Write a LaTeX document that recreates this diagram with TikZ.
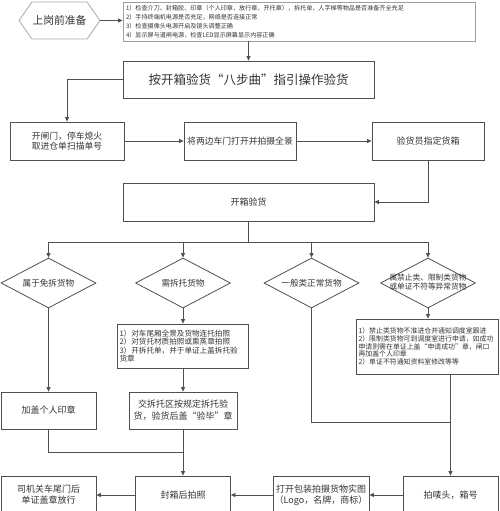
\documentclass[tikz,border=0pt]{standalone}
\usepackage{fontspec}
\setmainfont{Noto Sans CJK SC}
\usetikzlibrary{arrows.meta,shapes.geometric,shapes.symbols}
\definecolor{linec}{HTML}{505050}
\definecolor{textc}{HTML}{333333}
\definecolor{hexc}{HTML}{A8A8A8}
\begin{document}
\begin{tikzpicture}[x=1pt,y=-1pt,
 box/.style={draw=linec, line width=0.8pt, rectangle, inner sep=1pt, align=center, text=textc, font=\fontsize{9}{11}\selectfont},
 dia/.style={draw=linec, line width=0.8pt, diamond, aspect=1.9, inner sep=0pt, minimum width=95pt, minimum height=50pt, text=textc, font=\fontsize{8.6}{9}\selectfont, align=center},
 arr/.style={draw=linec, line width=0.8pt, -{Triangle[length=4.5pt,width=4pt]}},
 ln/.style={draw=linec, line width=0.8pt},
]
\useasboundingbox (0,0) rectangle (500,511);

\node[signal, signal to=east and west, signal pointer angle=110, draw=hexc, line width=0.8pt,
  minimum width=81pt, minimum height=37pt, inner sep=0pt, text=textc,
  font=\fontsize{10.8}{12}\selectfont] (prep) at (59.5,20.5) {上岗前准备};

\node[box, draw=gray!75, minimum width=352pt, minimum height=39pt, text width=346pt, align=left,
  font=\fontsize{6.1}{9}\selectfont] (check) at (299,21.5)
  {1）检查介刀、封箱胶、印章（个人印章，放行章，开托章），拆托单，人字梯等物品是否准备齐全充足\\
   2）手持终端机电源是否充足，网络是否连接正常\\
   3）检查摄像头电源开启及镜头调整正确\\
   4）显示屏与道闸电源，检查LED显示屏幕显示内容正确};

\node[box, minimum width=251pt, minimum height=37pt, font=\fontsize{12.5}{14}\selectfont] (main) at (248.5,79.5) {按开箱验货“八步曲”指引操作验货};

\node[box, minimum width=114pt, minimum height=38pt, font=\fontsize{8.8}{10.5}\selectfont] (b1) at (67,141) {开闸门，停车熄火\\取进仓单扫描单号};
\node[box, minimum width=112pt, minimum height=38pt, font=\fontsize{8.8}{10.5}\selectfont] (b2) at (240,141) {将两边车门打开并拍摄全景};
\node[box, minimum width=112pt, minimum height=38pt] (b3) at (428,141) {验货员指定货箱};

\node[box, minimum width=251pt, minimum height=38pt] (open) at (248.5,202) {开箱验货};
\coordinate (br) at (248.5,242);

\node[dia] (d1) at (48.5,283) {属于免拆货物};
\node[dia] (d2) at (183,283) {需拆托货物};
\node[dia] (d3) at (311.5,283) {一般类正常货物};
\node[dia, font=\fontsize{7.7}{9}\selectfont] (d4) at (428,283)
  {\makebox[0pt]{\begin{tabular}{@{}c@{}}属禁止类、限制类货物\\或单证不符等异常货物\end{tabular}}};

\node[box, minimum width=131pt, minimum height=44pt, text width=127pt, align=left,
  font=\fontsize{7.6}{8.3}\selectfont] (n2) at (183,346)
  {1）对车尾厢全景及货物连托拍照\\2）对货托材质拍照或熏蒸章拍照\\3）开拆托单，并于单证上盖拆托验\\货章};

\node[box, minimum width=142pt, minimum height=55pt, text width=138pt, align=left,
  font=\fontsize{6.9}{7.6}\selectfont] (n4) at (427.5,346.5)
  {1）禁止类货物不准进仓并通知调度室跟进\\
   2）限制类货物可到调度室进行申请，如成功\\
   申请则需在单证上盖“申请成功”章，闸口\\
   再加盖个人印章\\
   2）单证不符通知资料室修改等等};

\node[box, minimum width=95pt, minimum height=37pt] (n1) at (48.5,410.5) {加盖个人印章};
\node[box, minimum width=108pt, minimum height=37pt, font=\fontsize{9}{12}\selectfont] (n2b) at (183,410.5) {交拆托区按规定拆托验\\货，验货后盖“验毕”章};

\coordinate (j1) at (183,452);
\coordinate (j3) at (450.5,422);

\node[box, minimum width=95pt, minimum height=38pt] (driver) at (48.5,495) {司机关车尾门后\\单证盖章放行};
\node[box, minimum width=95pt, minimum height=38pt] (seal) at (183,495) {封箱后拍照};
\node[box, minimum width=96pt, minimum height=38pt] (pkg) at (321,495) {打开包装拍摄货物实图\\（Logo，名牌，商标）};
\node[box, minimum width=95pt, minimum height=38pt] (mark) at (450.5,495) {拍唛头，箱号};

\draw[arr] (prep.east) -- (check.west |- prep.east);
\draw[arr] (check.south -| main.north) -- (main.north);
\draw[arr] (main.west) -| (b1.north);
\draw[arr] (b1.east) -- (b2.west);
\draw[arr] (b2.east) -- (b3.west);
\draw[arr] (b3.south) |- (open.east);
\draw[ln] (open.south) -- (br);
\draw[arr] (br) -| (d1.north);
\draw[arr] (br) -| (d2.north);
\draw[arr] (br) -| (d3.north);
\draw[arr] (br) -| (d4.north);
\draw[arr] (d1.south) -- (n1.north);
\draw[arr] (d2.south) -- (n2.north);
\draw[arr] (n2.south) -- (n2b.north);
\draw[arr] (d4.south) -- (d4.south |- n4.north);
\draw[ln] (n1.south) |- (j1);
\draw[arr] (n2b.south) -- (seal.north);
\draw[ln] (d3.south) |- (j3);
\draw[arr] (mark.north |- n4.south) -- (mark.north);
\draw[arr] (mark.west) -- (pkg.east);
\draw[arr] (pkg.west) -- (seal.east);
\draw[arr] (seal.west) -- (driver.east);
\end{tikzpicture}
\end{document}
